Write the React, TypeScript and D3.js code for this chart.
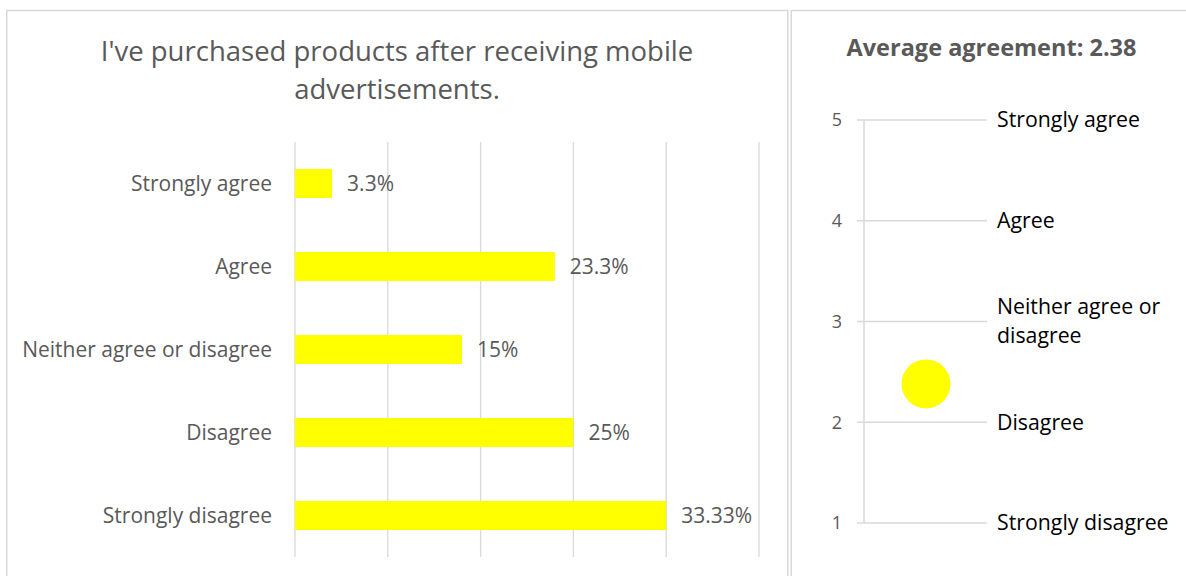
import React from "react";
import * as d3 from "d3";

const categories = ["Strongly agree", "Agree", "Neither agree or disagree", "Disagree", "Strongly disagree"];
const counts = [2, 14, 9, 15, 20];
const total = 60;
const valueLabels = ["3.3%", "23.3%", "15%", "25%", "33.33%"];
const countTicks = [0, 5, 10, 15, 20, 25];

const scaleValues = [1, 2, 3, 4, 5];
const scaleLabels = [["Strongly disagree"], ["Disagree"], ["Neither agree or", "disagree"], ["Agree"], ["Strongly agree"]];
const averageAgreement = 2.38;

const FONT = "'Open Sans', sans-serif";
const GREY = "#595959";
const GRID = "#d9d9d9";
const YELLOW = "#ffff00";

export default function App() {
  const x = d3.scaleLinear().domain([0, 25 / total]).range([295, 759]);
  const y = d3.scaleBand().domain(categories).range([142, 557]).paddingInner(0.65).paddingOuter(0.325);

  const ry = d3.scaleLinear().domain([1, 5]).range([523, 120]);

  return (
    <svg width={1186} height={576} style={{ position: "absolute", left: 0, top: 0, background: "#fff" }} fontFamily={FONT}>
      <rect x={0} y={0} width={1186} height={576} fill="#fff" />
      {/* panels */}
      <rect x={6.75} y={10.5} width={781} height={700} fill="none" stroke={GRID} strokeWidth={1.5} />
      <rect x={791.25} y={10.5} width={420} height={700} fill="none" stroke={GRID} strokeWidth={1.5} />

      {/* left title */}
      <text x={397} y={61} textAnchor="middle" fontSize={27.5} fill={GREY}>I've purchased products after receiving mobile</text>
      <text x={397} y={99} textAnchor="middle" fontSize={27.5} fill={GREY}>advertisements.</text>

      {/* gridlines */}
      {countTicks.map((t) => (
        <line key={t} x1={x(t / total)} x2={x(t / total)} y1={142} y2={557} stroke={GRID} strokeWidth={1.3} />
      ))}

      {/* bars */}
      {categories.map((c, i) => (
        <g key={c}>
          <rect x={x(0)} y={y(c)!} width={x(counts[i] / total) - x(0)} height={y.bandwidth()} fill={YELLOW} />
          <text x={272} y={y(c)! + y.bandwidth() / 2} dy="0.35em" textAnchor="end" fontSize={21} fill={GREY}>{c}</text>
          <text x={x(counts[i] / total) + 15} y={y(c)! + y.bandwidth() / 2} dy="0.35em" fontSize={21} fill={GREY}>{valueLabels[i]}</text>
        </g>
      ))}

      {/* right title */}
      <text x={991.5} y={56} textAnchor="middle" fontSize={23.5} fontWeight="bold" fill={GREY}>Average agreement: 2.38</text>

      {/* right axis */}
      <line x1={864} x2={864} y1={ry(1)} y2={ry(5)} stroke={GRID} strokeWidth={1.5} />
      {scaleValues.map((v, i) => (
        <g key={v}>
          <line x1={857} x2={987} y1={ry(v)} y2={ry(v)} stroke={GRID} strokeWidth={1.3} />
          <text x={837} y={ry(v)} dy="0.35em" textAnchor="middle" fontSize={18} fill={GREY}>{v}</text>
          {scaleLabels[i].map((l, j) => (
            <text key={j} x={997} y={ry(v) + (j - (scaleLabels[i].length - 1) / 2) * 29} dy="0.35em" fontSize={21.3} fill="#000">{l}</text>
          ))}
        </g>
      ))}
      <circle cx={926} cy={ry(averageAgreement)} r={24.5} fill={YELLOW} />
    </svg>
  );
}
